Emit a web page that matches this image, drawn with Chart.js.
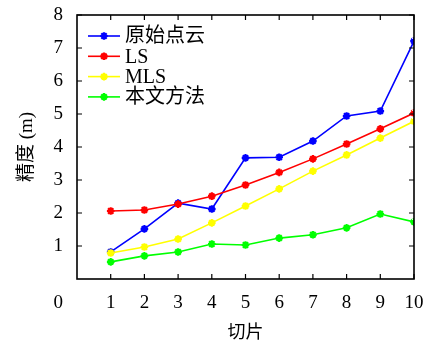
<!DOCTYPE html>
<html>
<head>
<meta charset="utf-8">
<script src="https://cdn.jsdelivr.net/npm/chart.js@4/dist/chart.umd.min.js"></script>
<style>
html, body { margin: 0; padding: 0; background: #fff; }
</style>
</head>
<body>
<canvas id="myChart" width="428" height="344"></canvas>
<script>
// 切片编号和四组精度数据
var slices = [1, 2, 3, 4, 5, 6, 7, 8, 9, 10]
var rawCloud = [0.82, 1.52, 2.30, 2.12, 3.67, 3.69, 4.18, 4.94, 5.09, 7.21]
var lsFit = [2.06, 2.09, 2.27, 2.51, 2.85, 3.23, 3.64, 4.09, 4.55, 5.03]
var mlsFit = [0.79, 0.97, 1.21, 1.70, 2.21, 2.73, 3.27, 3.76, 4.27, 4.78]
var ourMethod = [0.52, 0.70, 0.82, 1.06, 1.03, 1.24, 1.34, 1.55, 1.97, 1.73]
var seriesNames = ['原始点云', 'LS', 'MLS', '本文方法']
var seriesColors = ['#0000ff', '#ff0000', '#ffff00', '#00ff00']
var xTicks = [1, 2, 3, 4, 5, 6, 7, 8, 9, 10]
var yTicks = [1, 2, 3, 4, 5, 6, 7, 8]

var serif = '"Liberation Serif", "Noto Sans CJK SC", serif'
var allSeries = [rawCloud, lsFit, mlsFit, ourMethod]

function points(values) {
  return values.map(function (v, i) { return { x: slices[i], y: v } })
}

var datasets = allSeries.map(function (values, i) {
  return {
    label: seriesNames[i],
    data: points(values),
    borderColor: seriesColors[i],
    backgroundColor: seriesColors[i],
    borderWidth: 1.6,
    pointStyle: 'star',
    pointRadius: 3.8,
    pointBorderWidth: 2.2,
    pointBackgroundColor: seriesColors[i],
    pointBorderColor: seriesColors[i],
    order: allSeries.length - i, // later series drawn on top
    tension: 0
  }
})

// 边框、向内刻度、图例和左下角的 0
var framePlugin = {
  id: 'frame',
  afterDraw: function (chart) {
    var ctx = chart.ctx
    var a = chart.chartArea
    var xs = chart.scales.x
    var ys = chart.scales.y
    var tl = 5
    ctx.save()
    ctx.strokeStyle = '#000'
    ctx.lineWidth = 1.2
    xTicks.forEach(function (t) {
      var px = xs.getPixelForValue(t)
      ctx.beginPath()
      ctx.moveTo(px, a.bottom); ctx.lineTo(px, a.bottom - tl)
      ctx.moveTo(px, a.top); ctx.lineTo(px, a.top + tl)
      ctx.stroke()
    })
    yTicks.forEach(function (t) {
      var py = ys.getPixelForValue(t)
      ctx.beginPath()
      ctx.moveTo(a.left, py); ctx.lineTo(a.left + tl, py)
      ctx.moveTo(a.right, py); ctx.lineTo(a.right - tl, py)
      ctx.stroke()
    })
    ctx.lineWidth = 1.6
    ctx.strokeRect(a.left, a.top, a.right - a.left, a.bottom - a.top)

    // legend
    ctx.font = '20px ' + serif
    ctx.textAlign = 'left'
    ctx.textBaseline = 'middle'
    chart.data.datasets.forEach(function (ds, i) {
      var y = a.top + 21 + i * 20.3
      var x0 = a.left + 11
      ctx.strokeStyle = ds.borderColor
      ctx.fillStyle = ds.borderColor
      ctx.lineWidth = 1.6
      ctx.beginPath()
      ctx.moveTo(x0, y); ctx.lineTo(x0 + 32, y)
      ctx.stroke()
      ctx.lineWidth = 2.2
      Chart.helpers.drawPoint(ctx, { pointStyle: 'star', radius: 3.8, rotation: 0, borderWidth: 2.2 }, x0 + 16, y)
      ctx.fillStyle = '#000'
      ctx.fillText(ds.label, x0 + 37, y + 1)
    })

    ctx.font = '19px ' + serif
    ctx.textAlign = 'right'
    ctx.fillStyle = '#000'
    ctx.fillText('0', 63, a.bottom + 24)
    ctx.restore()
  }
}

var chart = new Chart(document.getElementById('myChart'), {
  type: 'line',
  data: { datasets: datasets },
  options: {
    responsive: false,
    animation: false,
    layout: { padding: { left: 0, top: 15, right: 14, bottom: 0 } },
    plugins: { legend: { display: false }, tooltip: { enabled: false } },
    scales: {
      x: {
        type: 'linear',
        min: 0,
        max: 10,
        afterFit: function (s) { s.height = 65; s.paddingLeft = 0; s.paddingRight = 0 },
        afterBuildTicks: function (s) { s.ticks = xTicks.map(function (v) { return { value: v } }) },
        grid: { display: false, drawTicks: false },
        border: { display: false },
        ticks: { color: '#000', padding: 13, maxRotation: 0, font: { family: serif, size: 19 } },
        title: { display: true, text: '切片', color: '#000', padding: { top: 0, bottom: 0 }, font: { family: serif, size: 18 } }
      },
      y: {
        min: 0,
        max: 8,
        afterFit: function (s) { s.width = 77; s.paddingTop = 0; s.paddingBottom = 0 },
        afterBuildTicks: function (s) { s.ticks = yTicks.map(function (v) { return { value: v } }) },
        grid: { display: false, drawTicks: false },
        border: { display: false },
        ticks: { color: '#000', padding: 14, font: { family: serif, size: 19 } },
        title: { display: true, text: '精度 (m)', color: '#000', padding: { top: 16, bottom: 0 }, font: { family: serif, size: 19 } }
      }
    }
  },
  plugins: [framePlugin]
})
</script>
</body>
</html>
